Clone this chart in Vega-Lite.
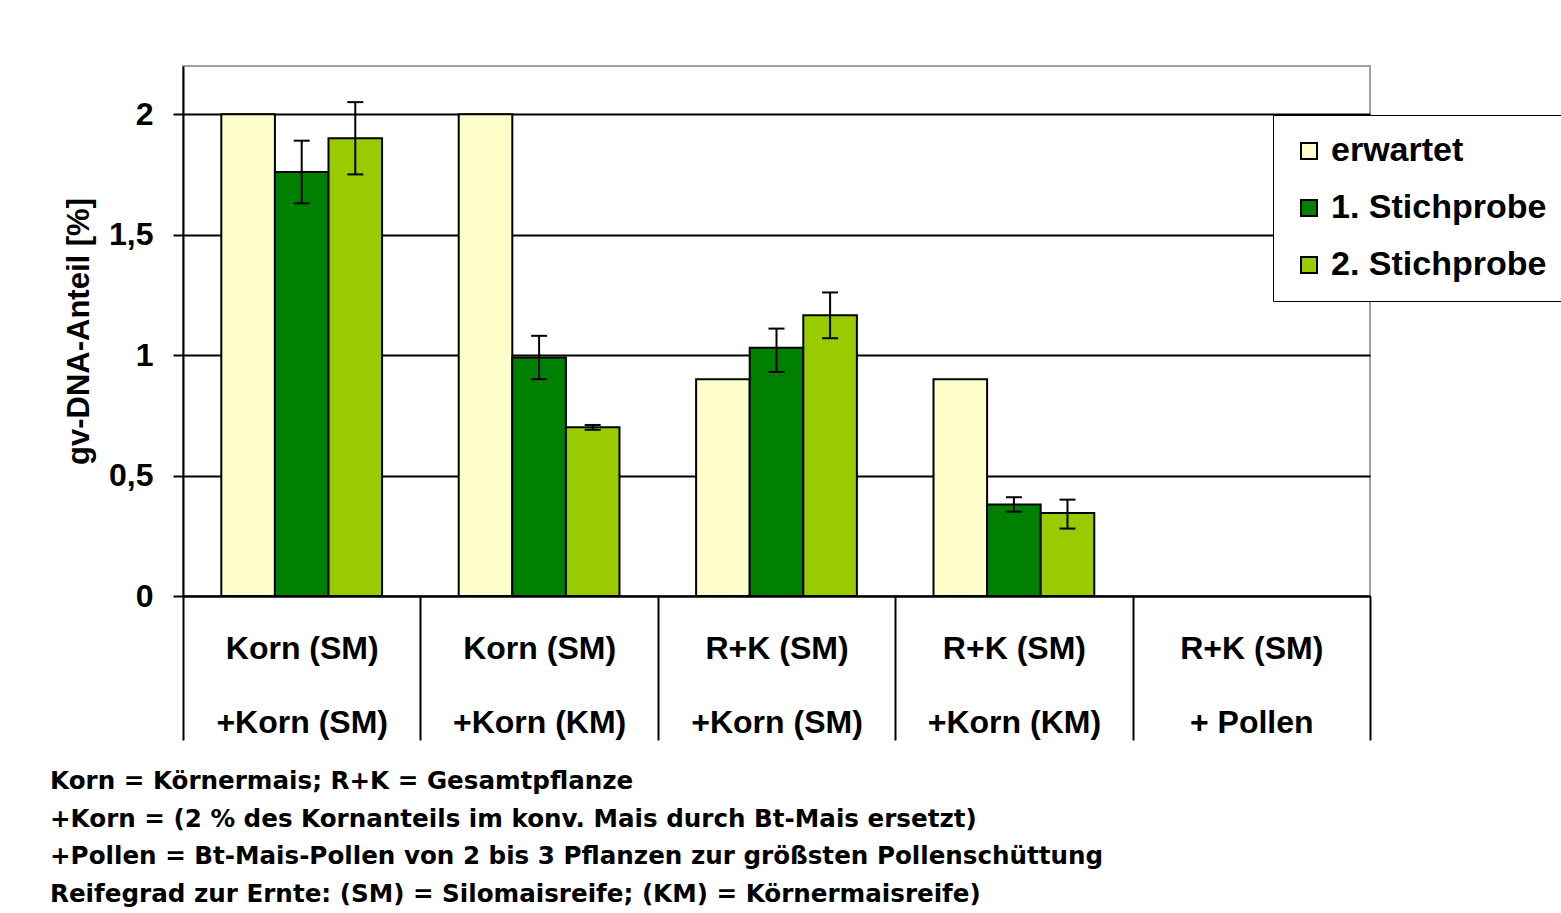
{
  "$schema": "https://vega.github.io/schema/vega-lite/v6.json",
  "width": 1187,
  "height": 530,
  "autosize": {"type": "none"},
  "padding": {"left": 183, "top": 66, "right": 191, "bottom": 317},
  "background": "white",
  "data": {
    "values": [
      {"cat": "Korn (SM)|+Korn (SM)", "series": "erwartet", "value": 2.0},
      {"cat": "Korn (SM)|+Korn (SM)", "series": "1. Stichprobe", "value": 1.76, "lo": 1.63, "hi": 1.89},
      {"cat": "Korn (SM)|+Korn (SM)", "series": "2. Stichprobe", "value": 1.90, "lo": 1.75, "hi": 2.05},
      {"cat": "Korn (SM)|+Korn (KM)", "series": "erwartet", "value": 2.0},
      {"cat": "Korn (SM)|+Korn (KM)", "series": "1. Stichprobe", "value": 0.99, "lo": 0.90, "hi": 1.08},
      {"cat": "Korn (SM)|+Korn (KM)", "series": "2. Stichprobe", "value": 0.70, "lo": 0.69, "hi": 0.71},
      {"cat": "R+K (SM)|+Korn (SM)", "series": "erwartet", "value": 0.90},
      {"cat": "R+K (SM)|+Korn (SM)", "series": "1. Stichprobe", "value": 1.03, "lo": 0.93, "hi": 1.11},
      {"cat": "R+K (SM)|+Korn (SM)", "series": "2. Stichprobe", "value": 1.165, "lo": 1.07, "hi": 1.26},
      {"cat": "R+K (SM)|+Korn (KM)", "series": "erwartet", "value": 0.90},
      {"cat": "R+K (SM)|+Korn (KM)", "series": "1. Stichprobe", "value": 0.38, "lo": 0.35, "hi": 0.41},
      {"cat": "R+K (SM)|+Korn (KM)", "series": "2. Stichprobe", "value": 0.345, "lo": 0.28, "hi": 0.40}
    ]
  },
  "title": {
    "text": [
      "Korn = Körnermais; R+K = Gesamtpflanze",
      "+Korn = (2 % des Kornanteils im konv. Mais durch Bt-Mais ersetzt)",
      "+Pollen = Bt-Mais-Pollen von 2 bis 3 Pflanzen zur größsten Pollenschüttung",
      "Reifegrad zur Ernte: (SM) = Silomaisreife; (KM) = Körnermaisreife)"
    ],
    "orient": "bottom",
    "anchor": "start",
    "frame": "group",
    "dx": -133,
    "offset": 29,
    "font": "DejaVu Sans",
    "fontSize": 24.6,
    "fontWeight": "bold",
    "lineHeight": 37.5,
    "color": "black"
  },
  "config": {
    "font": "Liberation Sans",
    "view": {"stroke": "#a0a0a0", "strokeWidth": 2}
  },
  "encoding": {
    "x": {
      "field": "cat",
      "type": "nominal",
      "sort": null,
      "scale": {
        "domain": ["Korn (SM)|+Korn (SM)", "Korn (SM)|+Korn (KM)", "R+K (SM)|+Korn (SM)", "R+K (SM)|+Korn (KM)", "R+K (SM)|+ Pollen"],
        "paddingInner": 0,
        "paddingOuter": 0
      },
      "axis": {
        "title": null,
        "labelAngle": 0,
        "labelExpr": "split(datum.label, '|')",
        "labelFontSize": 32,
        "labelFontWeight": "bold",
        "labelColor": "black",
        "labelLineHeight": 74,
        "labelPadding": -107,
        "labelBaseline": "top",
        "tickBand": "extent",
        "tickSize": 144,
        "tickColor": "black",
        "tickWidth": 2,
        "domainColor": "black",
        "domainWidth": 2
      }
    },
    "xOffset": {
      "field": "series",
      "type": "nominal",
      "sort": null,
      "scale": {"domain": ["erwartet", "1. Stichprobe", "2. Stichprobe"], "paddingInner": 0, "paddingOuter": 0.715}
    }
  },
  "layer": [
    {
      "mark": {"type": "bar", "stroke": "black", "strokeWidth": 2},
      "encoding": {
        "y": {
          "field": "value",
          "type": "quantitative",
          "scale": {"domain": [0, 2.2], "nice": false, "zero": true},
          "axis": {
            "title": "gv-DNA-Anteil [%]",
            "titleFontSize": 31,
            "titleFontWeight": "bold",
            "titleColor": "black",
            "titlePadding": 13,
            "values": [0, 0.5, 1, 1.5, 2],
            "labelExpr": "replace(format(datum.value, '~g'), '.', ',')",
            "labelFontSize": 32,
            "labelFontWeight": "bold",
            "labelColor": "black",
            "labelPadding": 20,
            "tickSize": 10,
            "tickColor": "black",
            "tickWidth": 2,
            "domainColor": "black",
            "domainWidth": 2,
            "grid": true,
            "gridColor": "black",
            "gridWidth": 2
          }
        },
        "color": {
          "field": "series",
          "type": "nominal",
          "sort": null,
          "scale": {"domain": ["erwartet", "1. Stichprobe", "2. Stichprobe"], "range": ["#ffffcc", "#008000", "#99cc00"]},
          "legend": {
            "title": null,
            "orient": "none",
            "legendX": 1090,
            "legendY": 49,
            "direction": "vertical",
            "fillColor": "white",
            "strokeColor": "black",
            "padding": 19,
            "symbolType": "square",
            "symbolSize": 256,
            "symbolStrokeColor": "black",
            "symbolStrokeWidth": 2,
            "symbolOpacity": 1,
            "labelFontSize": 34,
            "labelFontWeight": "bold",
            "labelColor": "black",
            "labelOffset": 5,
            "rowPadding": 23,
            "labelLimit": 400
          }
        }
      }
    },
    {
      "transform": [{"filter": "isValid(datum.lo)"}],
      "mark": {"type": "rule", "color": "black", "strokeWidth": 2},
      "encoding": {
        "y": {"field": "lo", "type": "quantitative"},
        "y2": {"field": "hi"}
      }
    },
    {
      "transform": [{"filter": "isValid(datum.lo)"}],
      "mark": {"type": "tick", "color": "black", "size": 16, "thickness": 2, "opacity": 1},
      "encoding": {
        "y": {"field": "lo", "type": "quantitative"}
      }
    },
    {
      "transform": [{"filter": "isValid(datum.hi)"}],
      "mark": {"type": "tick", "color": "black", "size": 16, "thickness": 2, "opacity": 1},
      "encoding": {
        "y": {"field": "hi", "type": "quantitative"}
      }
    }
  ]
}
